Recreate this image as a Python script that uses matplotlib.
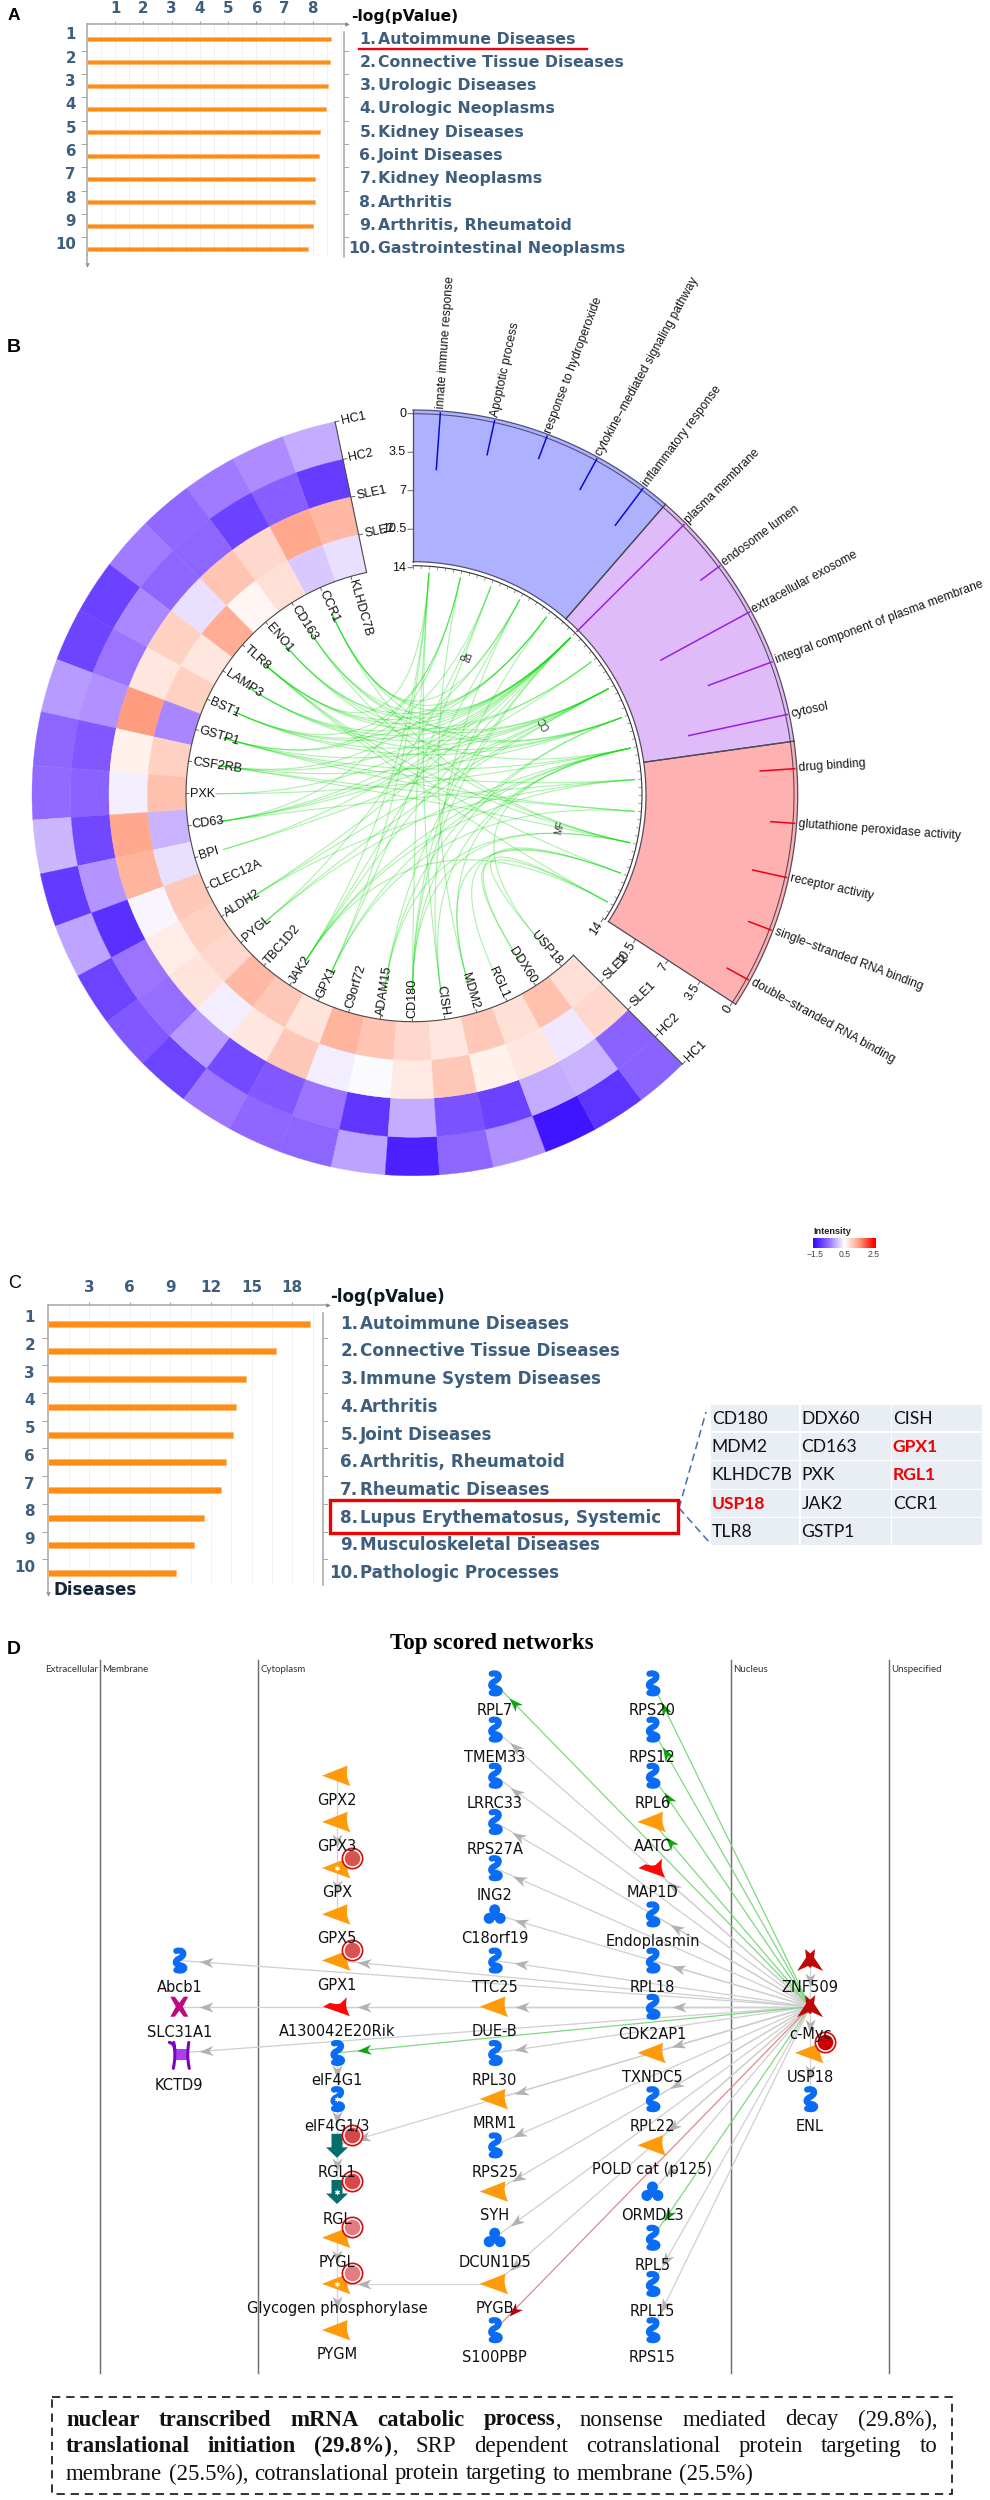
import numpy as np
import matplotlib
matplotlib.use("Agg")
import matplotlib.pyplot as plt
from matplotlib.colors import LinearSegmentedColormap, Normalize
from matplotlib.markers import MarkerStyle
from matplotlib.patches import Rectangle
from matplotlib.path import Path
from matplotlib.transforms import Affine2D

W, H = 990, 2500
# ---------------- data ----------------
A_NAMES = ["Autoimmune Diseases", "Connective Tissue Diseases", "Urologic Diseases", "Urologic Neoplasms",
           "Kidney Diseases", "Joint Diseases", "Kidney Neoplasms", "Arthritis", "Arthritis, Rheumatoid",
           "Gastrointestinal Neoplasms"]
A_VALUES = [8.65, 8.63, 8.55, 8.47, 8.28, 8.23, 8.09, 8.07, 8.0, 7.83]
A_TICKS = [1, 2, 3, 4, 5, 6, 7, 8]
C_NAMES = ["Autoimmune Diseases", "Connective Tissue Diseases", "Immune System Diseases", "Arthritis",
           "Joint Diseases", "Arthritis, Rheumatoid", "Rheumatic Diseases", "Lupus Erythematosus, Systemic",
           "Musculoskeletal Diseases", "Pathologic Processes"]
C_VALUES = [19.33, 16.77, 14.58, 13.83, 13.6, 13.13, 12.76, 11.46, 10.71, 9.41]
C_TICKS = [3, 6, 9, 12, 15, 18]
TABLE = [["CD180", "DDX60", "CISH"], ["MDM2", "CD163", "GPX1"], ["KLHDC7B", "PXK", "RGL1"],
         ["USP18", "JAK2", "CCR1"], ["TLR8", "GSTP1", ""]]
TABLE_RED = ["GPX1", "RGL1", "USP18"]

GENES = ["KLHDC7B", "CCR1", "CD163", "ENO1", "TLR8", "LAMP3", "BST1", "GSTP1", "CSF2RB", "PXK", "CD63", "BPI",
         "CLEC12A", "ALDH2", "PYGL", "TBC1D2", "JAK2", "GPX1", "C9orf72", "ADAM15", "CD180", "CISH", "MDM2",
         "RGL1", "DDX60", "USP18"]
RINGS = ["HC1", "HC2", "SLE1", "SLE2"]
HC1 = [-.10, -.33, -.46, -.63, -.46, -1.01, -.97, -.22, -.67, -.61, -.02, -1.09, -.17, -1.0, -.79, -1.0, -.5, -.65,
       -.67, -.18, -1.32, -.67, -.3, -1.44, -1.15, -.69]
HC2 = [-1.06, -.73, -1.01, -.67, -.67, -.36, -.53, -.3, -.79, -.69, -.95, -.28, -1.18, -.53, -.59, -.25, -.93, -.79,
       -.53, -1.11, -.1, -.85, -1.01, -.1, -.06, -.69]
SLE1 = [1.23, 1.4, .9, 1.1, .27, .98, .74, 1.5, .65, .39, 1.4, 1.27, .43, .7, .78, .37, .74, 1.07, .37, .46, .72,
        1.07, .65, .74, .34, .9]
SLE2 = [.27, .1, .82, .6, 1.33, .74, .98, -.38, .98, 1.15, -.05, .27, 1.07, .98, .9, 1.23, 1.07, .78, 1.27, 1.1, .9,
        .76, 1.07, .82, 1.15, .82]
TERMS = ["innate immune response", "Apoptotic process", "response to hydroperoxide",
         "cytokine\u2212mediated signaling pathway", "inflammatory response", "plasma membrane", "endosome lumen",
         "extracellular exosome", "integral component of plasma membrane", "cytosol", "drug binding",
         "glutathione peroxidase activity", "receptor activity", "single\u2212stranded RNA binding",
         "double\u2212stranded RNA binding"]
TERM_VALUES = [5, 3, 2, 3, 4, 13.6, 2, 9, 6, 9, 3, 2, 3, 2, 2]
TERM_GROUPS = ["BP", "CC", "MF"]
TRACK_TICKS = [0, 3.5, 7, 10.5, 14]
LINKS = {
    0: ["TLR8", "CD180", "JAK2", "CISH", "GPX1"],
    1: ["GSTP1", "BST1", "CD63", "MDM2"],
    2: ["GPX1", "PYGL", "GSTP1"],
    3: ["CCR1", "CSF2RB", "JAK2", "CISH"],
    4: ["CCR1", "CD180", "TLR8", "BST1", "ENO1"],
    5: ["CCR1", "CD163", "TLR8", "LAMP3", "BST1", "CSF2RB", "CD63", "CD180", "ADAM15", "JAK2", "PXK", "ENO1", "BPI",
        "ALDH2"],
    6: ["TLR8", "CD63", "LAMP3"],
    7: ["GSTP1", "CD63", "ENO1", "BST1", "LAMP3", "PYGL", "BPI", "ALDH2", "CD163"],
    8: ["CD163", "LAMP3", "CD180", "CCR1", "CSF2RB", "ADAM15", "BST1"],
    9: ["GSTP1", "PYGL", "JAK2", "GPX1", "ENO1", "PXK", "USP18", "CISH", "MDM2"],
    10: ["JAK2", "GSTP1", "ALDH2", "CD63"],
    11: ["GPX1", "GSTP1", "CSF2RB"],
    12: ["CD163", "CSF2RB", "CCR1", "CD180", "TLR8", "ADAM15"],
    13: ["TLR8", "DDX60", "MDM2", "RGL1"],
    14: ["DDX60", "USP18", "TLR8", "JAK2"],
}
LEGEND_TICKS = [-1.5, 0.5, 2.5]

COL1 = ["Abcb1", "SLC31A1", "KCTD9"]
COL1_SHAPES = list("pxk")
COL2 = ["GPX2", "GPX3", "GPX", "GPX5", "GPX1", "A130042E20Rik", "eIF4G1", "eIF4G1/3", "RGL1", "RGL", "PYGL",
        "Glycogen phosphorylase", "PYGM"]
COL2_SHAPES = list("eeEeerpPtTeEe")
COL3 = ["RPL7", "TMEM33", "LRRC33", "RPS27A", "ING2", "C18orf19", "TTC25", "DUE-B", "RPL30", "MRM1", "RPS25", "SYH",
        "DCUN1D5", "PYGB", "S100PBP"]
COL3_SHAPES = list("pppppbpepepebep")
COL4 = ["RPS20", "RPS12", "RPL6", "AATC", "MAP1D", "Endoplasmin", "RPL18", "CDK2AP1", "TXNDC5", "RPL22",
        "POLD cat (p125)", "ORMDL3", "RPL5", "RPL15", "RPS15"]
COL4_SHAPES = list("ppperpppepebppp")
COL5 = ["ZNF509", "c-Myc", "USP18", "ENL"]
COL5_SHAPES = list("ssep")
COLUMN_STARTS = {1: 6, 2: 2, 3: 0, 4: 0, 5: 6}
CIRCLED = {"GPX": "#d9534f", "GPX1": "#d9534f", "RGL1": "#d9474a", "RGL": "#d9474a", "PYGL": "#e37c80",
           "Glycogen phosphorylase": "#e37c80", "USP18": "#cc0000"}
COMPARTMENTS = ["Extracellular", "Membrane", "Cytoplasm", "Nucleus", "Unspecified"]
BOUNDARIES = [0.5, 1.5, 4.5, 5.5]
GREEN_EDGES = ["RPL7", "RPS20", "RPS12", "RPL6", "AATC", "eIF4G1", "RPL5"]
RED_EDGES = ["S100PBP"]
GRAY_EDGES = ["TMEM33", "LRRC33", "RPS27A", "ING2", "C18orf19", "TTC25", "RPL30", "MRM1", "RPS25", "SYH", "DCUN1D5",
              "PYGB", "DUE-B", "MAP1D", "Endoplasmin", "RPL18", "CDK2AP1", "TXNDC5", "RPL22", "POLD cat (p125)",
              "ORMDL3", "RPL15", "RPS15", "GPX1", "A130042E20Rik", "Abcb1", "SLC31A1", "KCTD9", "RGL1"]
OTHER_EDGES = [("GPX2", "GPX"), ("GPX", "GPX5"), ("eIF4G1", "eIF4G1/3"), ("eIF4G1/3", "RGL1"), ("RGL1", "RGL"),
               ("PYGL", "Glycogen phosphorylase"), ("Glycogen phosphorylase", "PYGM"),
               ("PYGB", "Glycogen phosphorylase"), ("ZNF509", "c-Myc"), ("c-Myc", "USP18"), ("USP18", "ENL")]
BOX_LINES = [
    [[("nuclear", 1)], [("transcribed", 1)], [("mRNA", 1)], [("catabolic", 1)], [("process", 1), (",", 0)],
     [("nonsense", 0)], [("mediated", 0)], [("decay", 0)], [("(29.8%),", 0)]],
    [[("translational", 1)], [("initiation", 1)], [("(29.8%)", 1), (",", 0)], [("SRP", 0)], [("dependent", 0)],
     [("cotranslational", 0)], [("protein", 0)], [("targeting", 0)], [("to", 0)]],
    [[("membrane", 0)], [("(25.5%),", 0)], [("cotranslational", 0)], [("protein", 0)], [("targeting", 0)], [("to", 0)],
     [("membrane", 0)], [("(25.5%)", 0)]],
]

SLATE = "#3d5f7d"
AXC = "#a6a6a6"
BAR = "#fd8d14"
SANS = "Liberation Sans"
SERIF = "Liberation Serif"
PT = 0.72  # points per pixel at dpi 100

fig = plt.figure(figsize=(W / 100, H / 100), dpi=100, facecolor="white")


def add_ax(l, t, r, b, **kw):
    return fig.add_axes([l / W, 1 - b / H, (r - l) / W, (b - t) / H], **kw)


bg = add_ax(0, 0, W, H)
bg.set_xlim(0, W)
bg.set_ylim(H, 0)
bg.axis("off")
bg.set_zorder(5)
bg.patch.set_alpha(0)


def bar_panel(names, values, ticks, minor, l, r, t, b, row0, step, unit, right_x, right_top, bar_px, fs, tick_fs,
              pad, name_x, num_h_off, rank_x, rank_off, lw_arrow):
    ax = add_ax(l, t, r, b)
    ax.set_xlim(0, (r - l) / unit)
    ax.set_ylim((b - row0) / step + 1, (t - row0) / step + 1)
    ranks = np.arange(1, len(values) + 1)
    ax.barh(ranks, values, height=bar_px / step, color=BAR, edgecolor="#ffb469", linewidth=0.4, zorder=3)
    ax.set_xticks(ticks)
    ax.set_xticks(np.arange(minor, (r - l) / unit, minor), minor=True)
    ax.xaxis.grid(True, which="both", color="#f1f1f1", lw=0.7, zorder=0)
    ax.tick_params(axis="x", which="major", top=True, labeltop=True, bottom=False, labelbottom=False, length=2.5,
                   color=AXC, pad=pad, labelcolor=SLATE, labelsize=tick_fs)
    ax.tick_params(axis="x", which="minor", top=False, bottom=False)
    for lab in ax.get_xticklabels():
        lab.set_fontweight("bold")
    ax.set_yticks(ranks[:-1] + 0.5)
    ax.set_yticklabels([])
    ax.tick_params(axis="y", length=6 * PT, color=AXC, width=0.7)
    for s in ("right", "bottom"):
        ax.spines[s].set_visible(False)
    for s in ("left", "top"):
        ax.spines[s].set_color(AXC)
        ax.spines[s].set_linewidth(1.1)
    ax.set_facecolor("none")
    # arrows and right-hand rule
    bg.plot([l, l], [b, b + lw_arrow], color=AXC, lw=1.1)
    bg.scatter([l], [b + lw_arrow], marker="v", s=10, color="#808080", linewidths=0)
    bg.scatter([r], [t], marker=">", s=10, color="#808080", linewidths=0)
    bg.plot([right_x, right_x], [right_top, b + 2], color=AXC, lw=1.1)
    for i, (n, nm) in enumerate(zip(ranks, names)):
        y = row0 + step * i
        bg.text(rank_x, y + rank_off, str(n), ha="right", va="center", fontsize=tick_fs, fontweight="bold",
                color=SLATE, family="DejaVu Sans")
        bg.text(name_x - num_h_off, y, f"{n}.", ha="right", va="center", fontsize=fs, fontweight="bold", color=SLATE,
                family="DejaVu Sans")
        bg.text(name_x, y, nm, ha="left", va="center", fontsize=fs, fontweight="bold", color=SLATE,
                family="DejaVu Sans")
        if i < len(names) - 1:
            bg.plot([right_x, right_x + 4], [y + step / 2] * 2, color=AXC, lw=0.7)
    return ax


# ---------------- Panel A ----------------
bar_panel(A_NAMES, A_VALUES, A_TICKS, 0.5, 87, 347, 24, 255, 39, 23.33, 28.2, 343.75, 31.7, 3.8, 11.3, 10.8, 3.5, 378,
          1.5, 76, -4.3, 10)
bg.text(351, 16.7, "-log(pValue)", fontsize=11.2, fontweight="bold", family="DejaVu Sans", va="center", color="#0a0a0a")
bg.plot([358.5, 587], [48.7, 48.7], color="#f00010", lw=1.7)
bg.text(8, 15.7, "A", fontsize=12.5, family=SANS, fontweight="bold", va="center", color="black")

# ---------------- Panel C ----------------
bar_panel(C_NAMES, C_VALUES, C_TICKS, 1.5, 48.4, 328, 1305, 1582.7, 1323.7, 27.72, 13.55, 323, 1313, 6, 12.1, 11, 5, 360,
          1.5, 35, -6, 11)
bg.text(330, 1296.7, "-log(pValue)", fontsize=12, fontweight="bold", family="DejaVu Sans", va="center", color="#0a1622")
bg.text(53.7, 1590, "Diseases", fontsize=12.1, fontweight="bold", family="DejaVu Sans", va="center", color="#14263a")
bg.text(8, 1283, "C", fontsize=13, family=SANS, va="center", color="black")
bg.add_patch(Rectangle((330, 1500), 348, 33, fc="none", ec="#f00000", lw=2.4, zorder=6))
col_edges = [711, 800.5, 892, 983]
row_edges = [1405, 1432.7, 1461, 1490, 1518, 1546.7]
for i, row in enumerate(TABLE):
    for j, cell in enumerate(row):
        bg.add_patch(Rectangle((col_edges[j], row_edges[i]), col_edges[j + 1] - col_edges[j] - 1.5,
                               row_edges[i + 1] - row_edges[i] - 1.5, fc="#e9edf4", ec="none"))
        red = cell in TABLE_RED
        bg.text(col_edges[j] + 0.8, (row_edges[i] + row_edges[i + 1]) / 2, cell, fontsize=12.6, family="Lato",
                fontweight="bold" if red else "normal", color="#f00000" if red else "#111111", va="center")
bg.plot([679, 706], [1508, 1412], color="#3a6fb5", lw=1.1, ls=(0, (5, 3)))
bg.plot([679, 710], [1508, 1543], color="#3a6fb5", lw=1.1, ls=(0, (5, 3)))

# ---------------- Panel B ----------------
cx, cy, RM = 413.0, 794.7, 400.0
pol = fig.add_axes([(cx - RM) / W, 1 - (cy + RM) / H, 2 * RM / W, 2 * RM / H], projection="polar")
pol.set_theta_zero_location("N")
pol.set_theta_direction(-1)
pol.set_rlim(0, RM)
pol.axis("off")
pol.set_zorder(3)
pol.patch.set_alpha(0)
rad = np.deg2rad
RING_W = 38.5
R_IN = 227.0
R_OUT = R_IN + 4 * RING_W
GENE_STEP = 8.2
GENE_START = 348.2
gene_theta = {g: GENE_START - (i + 0.5) * GENE_STEP for i, g in enumerate(GENES)}
cmap = LinearSegmentedColormap.from_list(
    "intensity", [(0, "#3a10ff"), (.25, "#9e76ff"), (.5, "#ffffff"), (.75, "#ff9e81"), (1, "#ff0000")])


def vcol(v):
    return cmap((v + 1.5) / 4)


for k, series in enumerate([HC1, HC2, SLE1, SLE2]):
    r0 = R_OUT - (k + 1) * RING_W
    for g, v in zip(GENES, series):
        pol.bar(rad(gene_theta[g]), RING_W, width=rad(GENE_STEP), bottom=r0, color=vcol(v), edgecolor=vcol(v),
                linewidth=0.25, zorder=2)
DARK = "#4a4a4a"
tt = np.linspace(GENE_START - 26 * GENE_STEP, GENE_START, 300)
pol.plot(rad(tt), np.full_like(tt, R_IN), color=DARK, lw=0.8, zorder=3)
for end in (GENE_START, GENE_START - 26 * GENE_STEP):
    pol.plot([rad(end)] * 2, [R_IN, R_OUT], color=DARK, lw=0.8, zorder=3)
    for k, rn in enumerate(RINGS):
        r = R_OUT - k * RING_W
        sgn = 1 if end == GENE_START else -1
        pol.plot([rad(end), rad(end) + sgn * 4 / r], [r, r], color=DARK, lw=0.6)
        rot = -end if sgn > 0 else 180 - end
        pol.text(rad(end) + sgn * 6 / r, r, rn, rotation=rot % 360, rotation_mode="anchor", ha="left", va="center",
                 fontsize=9, family=SANS, color="#111111")
for g, th in gene_theta.items():
    pol.plot([rad(th)] * 2, [R_IN - 3, R_IN], color=DARK, lw=0.6)
    if th >= 180:
        rot, ha = (270 - th) % 360, "left"
    else:
        rot, ha = (90 - th) % 360, "right"
    pol.text(rad(th), R_IN - 4, g, rotation=rot, rotation_mode="anchor", ha=ha, va="center", fontsize=9.1, family=SANS,
             color="#111111", zorder=6)

# term track
TERM_STEP = 8.2
term_theta = [TERM_STEP * (i + 0.5) for i in range(15)]
R_T_OUT, R_ZERO, R_T_IN, R_AX = 384.7, 381.0, 233.0, 229.0


def track_r(v):
    return R_ZERO - 11.0 * v


GROUP_FILL = ["#aeb1fd", "#dfbcf9", "#ffb0b0"]
GROUP_LINE = ["#0a0ad8", "#9a20e0", "#f00018"]
for k in range(3):
    span = TERM_STEP * 5
    pol.bar(rad(span * (k + 0.5)), R_T_OUT - R_T_IN, width=rad(span), bottom=R_T_IN, color=GROUP_FILL[k],
            edgecolor="none", zorder=2)
    ends = np.array([span * k, span * (k + 1)])
    a = np.linspace(ends[0], ends[1], 120)
    for r_, lw_ in ((R_T_OUT, .9), (R_ZERO, .8), (R_T_IN, .9)):
        pol.plot(rad(a), np.full_like(a, r_), color="#50507a" if k == 0 else "#5a4a5a", lw=lw_, zorder=3)
    for e in ends:
        pol.plot([rad(e)] * 2, [R_T_IN, R_T_OUT], color="#4a4a5a", lw=0.9, zorder=3)
    pol.text(rad(span * (k + 0.5)), 150, TERM_GROUPS[k], rotation=(180 - span * (k + 0.5)) % 360,
             rotation_mode="anchor", ha="center", va="center", fontsize=7, family=SANS, color="#333333")
a = np.linspace(0, 123, 200)
pol.plot(rad(a), np.full_like(a, R_AX), color="#333333", lw=0.8, zorder=3)
for d_ in np.arange(0, 123.1, 2.05):
    pol.plot([rad(d_)] * 2, [R_AX - 3, R_AX], color="#555555", lw=0.4, zorder=3)
for i, (name, v, th) in enumerate(zip(TERMS, TERM_VALUES, term_theta)):
    k = i // 5
    pol.plot([rad(th)] * 2, [R_T_OUT - 2, track_r(v)], color=GROUP_LINE[k], lw=1.1, zorder=4)
    pol.text(rad(th), R_T_OUT + 2, name, rotation=(90 - th) % 360, rotation_mode="anchor", ha="left", va="center",
             fontsize=8.7, family=SANS, color="#151515", zorder=6)
for v in TRACK_TICKS:
    r = track_r(v)
    pol.plot([0, -5 / r], [r, r], color=DARK, lw=0.6)
    pol.text(-7 / r, r, f"{v:g}", ha="right", va="center", fontsize=9, family=SANS, color="#111111")
    pol.plot([rad(123), rad(123) + 4 / r], [r, r], color=DARK, lw=0.6)
    pol.text(rad(123) + 5 / r, r, f"{v:g}", rotation=57, rotation_mode="anchor", ha="right", va="center", fontsize=9,
             family=SANS, color="#111111")


# chords
def chord(t0, r0, t1, r1):
    p0 = np.array([r0 * np.sin(t0), r0 * np.cos(t0)])
    p1 = np.array([r1 * np.sin(t1), r1 * np.cos(t1)])
    s = np.linspace(0, 1, 60)[:, None]
    pts = (1 - s) ** 2 * p0 + s ** 2 * p1
    return np.arctan2(pts[:, 0], pts[:, 1]), np.hypot(pts[:, 0], pts[:, 1])


for ti, gs in LINKS.items():
    for g in gs:
        t, r = chord(rad(gene_theta[g]), 197, rad(term_theta[ti]), 222)
        pol.plot(t, r, color="#12dc12", alpha=0.36, lw=0.8, zorder=1.5)

# legend
LEG_UNIT = 14.75
cb = add_ax(813.3, 1238.3, 876, 1248.3)
xl, xr = -1.5 - (815 - 813.3) / LEG_UNIT, 2.5 + (876 - 874) / LEG_UNIT
cb.imshow(np.linspace(xl, xr, 256)[None, :], aspect="auto", cmap=cmap, norm=Normalize(-1.5, 2.5), extent=(xl, xr, 0, 1))
cb.set_yticks([])
cb.set_xticks(LEGEND_TICKS)
cb.set_xticklabels([f"{v:g}".replace("-", "\u2212") for v in LEGEND_TICKS], fontsize=6.2, family=SANS, color="#444444")
cb.tick_params(axis="x", length=0, pad=1.2)
for s in cb.spines.values():
    s.set_visible(False)
bg.text(813.3, 1232, "Intensity", fontsize=6.6, fontweight="bold", family=SANS, va="center", color="#222222")
bg.text(14, 348, "B", fontsize=14, fontweight="bold", family=SANS, ha="center", va="center", color="black")

# ---------------- Panel D ----------------
COLX, ROWY = 157.7, 46.2
COL0_PX, ROW0_PX = 179.3, 1683.3
D_T, D_B = 1650, 2385
d = add_ax(0, D_T, W, D_B)
d.set_xlim(1 - COL0_PX / COLX, 1 + (W - COL0_PX) / COLX)
d.set_ylim((D_B - ROW0_PX) / ROWY, (D_T - ROW0_PX) / ROWY)
d.axis("off")
d.set_zorder(4)
d.patch.set_alpha(0)

bg.text(491.5, 1644, "Top scored networks", fontsize=16.6, fontweight="bold", family=SERIF, ha="center", va="center",
        color="black")
bg.text(14, 1649, "D", fontsize=14, fontweight="bold", family=SANS, ha="center", va="center", color="black")
row_top = (1660 - ROW0_PX) / ROWY
row_bot = (2372.7 - ROW0_PX) / ROWY
for b_ in BOUNDARIES:
    d.plot([b_, b_], [row_top, row_bot], color="#6e6e6e", lw=1.05, zorder=1)
comp_fs = 7
label_top = (1670 - ROW0_PX) / ROWY
d.text(BOUNDARIES[0] - 0.012, label_top, COMPARTMENTS[0], ha="right", va="center", fontsize=comp_fs, family="Lato",
       color="#333333")
for b_, nm in zip(BOUNDARIES, COMPARTMENTS[1:]):
    d.text(b_ + 0.012, label_top, nm, ha="left", va="center", fontsize=comp_fs, family="Lato", color="#333333")

# node positions
pos, shape_of = {}, {}
for c, (names, shapes) in enumerate([(COL1, COL1_SHAPES), (COL2, COL2_SHAPES), (COL3, COL3_SHAPES), (COL4, COL4_SHAPES),
                                     (COL5, COL5_SHAPES)], start=1):
    for i, (n, s) in enumerate(zip(names, shapes)):
        pos[n] = (c, COLUMN_STARTS[c] + i)
        shape_of[n] = s

M, L, C3, C4, CL = Path.MOVETO, Path.LINETO, Path.CURVE3, Path.CURVE4, Path.CLOSEPOLY
PATHS = {
    "squig": Path([(-3, 9.5), (2, 11), (5.5, 8.5), (3.5, 5), (1.5, 1.5), (-3.5, 2), (-3.5, -2), (-3.5, -5.5), (5, -4),
                   (5, -7.5), (5, -10.5), (0, -10.5), (-3, -9.5)], [M, C4, C4, C4, C4, C4, C4, C4, C4, C4, C4, C4, C4]),
    "enz": Path([(-15, 0), (10.8, 10.2), (8, 0), (13.5, -10.4), (-15, 0), (-15, 0)], [M, L, C3, C3, L, CL]),
    "red": Path([(-14, 0), (-7, 3.8), (-1, 2.5), (3, 3), (10, 9.5), (7, 0), (13, -9.5), (-14, 0), (-14, 0)],
                [M, L, L, L, L, C3, C3, L, CL]),
    "teal": Path([(-5.5, 11.5), (5.5, 11.5), (5.5, -2), (11, -2), (0, -12.5), (-11, -2), (-5.5, -2), (-5.5, 11.5)],
                 [M, L, L, L, L, L, L, CL]),
    "blob": Path.make_compound_path(Path.circle((0, 4.5), 5.5), Path.circle((-5.5, -4), 5.5), Path.circle((5.5, -4), 5.5),
                                    Path.circle((0, -1), 4.5)),
    "x": Path([(-9, 10), (-4.5, 10), (0, 4), (4.5, 10), (9, 10), (3.5, 0), (9, -10), (4.5, -10), (0, -4), (-4.5, -10),
               (-9, -10), (-3.5, 0), (-9, 10)], [M] + [L] * 11 + [CL]),
    "star": Path([(-5, 11.5), (0, 7), (5, 11.5), (4, 3), (13, -10.5), (2, -5.5), (0, -7.5), (-2, -5.5), (-13, -10.5),
                  (-4, 3), (-5, 11.5)], [M] + [L] * 9 + [CL]),
    "krect": Path([(-7, 6), (7, 6), (7, -5), (-7, -5), (-7, 6)], [M, L, L, L, CL]),
    "kbars": Path.make_compound_path(
        Path([(-7.5, 13), (-6, 4), (-6, -4), (-8, -13)], [M, C4, C4, C4]),
        Path([(7.5, 13), (6, 4), (6, -4), (8, -13)], [M, C4, C4, C4]),
        Path([(-6.5, 6), (-7, 12), (-12, 13)], [M, C3, C3])),
    "arrow": Path([(7, 0), (-7, 5), (-3, 0), (-7, -5), (7, 0)], [M, L, L, L, CL]),
}


def msize(p):
    return (2 * PT * np.abs(p.vertices).max()) ** 2


def put(path, x, y, color, z=5, **kw):
    d.scatter([x], [y], marker=MarkerStyle(path), s=msize(path), facecolors=color, edgecolors="none", linewidths=0,
              zorder=z, **kw)


BLUE, ORANGE, RED_N, TEAL, MAG = "#0a6cf5", "#ff9a0a", "#ff0505", "#056e6a", "#bd0a80"
PURP, PURP2, STAR = "#7a05bd", "#ab3ff0", "#c00808"
LABEL_OFF = {"p": 27.5, "P": 27.5, "e": 24.5, "E": 24.5, "r": 24.5, "b": 24.5, "t": 27.5, "T": 27.5, "x": 25.7, "k": 33,
             "s": 27.5}


def node(name):
    x, y = pos[name]
    s = shape_of[name]
    if s in "pP":
        d.scatter([x], [y], marker=MarkerStyle(PATHS["squig"]), s=msize(PATHS["squig"]), facecolors="none",
                  edgecolors=BLUE, linewidths=4.4, capstyle="round", zorder=5)
    elif s in "eE":
        put(PATHS["enz"], x, y, ORANGE)
    elif s == "r":
        put(PATHS["red"], x, y, RED_N)
    elif s in "tT":
        put(PATHS["teal"], x, y, TEAL)
    elif s == "b":
        put(PATHS["blob"], x, y, BLUE)
    elif s == "x":
        put(PATHS["x"], x, y, MAG)
    elif s == "k":
        y2 = y + 2.5 / ROWY
        put(PATHS["krect"], x + 2 / COLX, y2, PURP2)
        d.scatter([x + 2 / COLX], [y2], marker=MarkerStyle(PATHS["kbars"]), s=msize(PATHS["kbars"]), facecolors="none",
                  edgecolors=PURP, linewidths=2.2, capstyle="round", zorder=5)
    elif s == "s":
        put(PATHS["star"], x, y, STAR)
    if s in "EPT":
        d.scatter([x], [y], marker=(6, 1, 0), s=22, color="white", linewidths=0, zorder=6)
    d.text(x, y + LABEL_OFF[s] / ROWY, name, ha="center", va="center", fontsize=10.5, family="DejaVu Sans",
           color="#111111", zorder=7)
    if name in CIRCLED:
        mx, my = x + 15 / COLX, y - 10.5 / ROWY
        for rr, col in ((11, "#d60f0f"), (9.3, "white"), (7.8, CIRCLED[name])):
            d.scatter([mx], [my], marker="o", s=(2 * rr * PT) ** 2, color=col, linewidths=0, zorder=6)


def edge(a, b, col, acol, lw=0.9):
    xa, ya = pos[a]
    xb, yb = pos[b]
    d.plot([xa, xb], [ya, yb], color=col, lw=lw, zorder=2, solid_capstyle="butt")
    dx, dy = (xb - xa) * COLX, (yb - ya) * ROWY
    ln = np.hypot(dx, dy)
    back = 27.0
    ax_, ay_ = xb - dx / ln * back / COLX, yb - dy / ln * back / ROWY
    ang = np.degrees(np.arctan2(-dy, dx))
    p = PATHS["arrow"]
    d.scatter([ax_], [ay_], marker=MarkerStyle(p, transform=Affine2D().rotate_deg(ang)), s=msize(p), color=acol,
              linewidths=0, zorder=3)


for n in GRAY_EDGES:
    edge("c-Myc", n, "#cfcfcf", "#b2b2b2")
for a_, b_ in OTHER_EDGES:
    edge(a_, b_, "#d4d4d4", "#b2b2b2")
for n in GREEN_EDGES:
    edge("c-Myc", n, "#80d880", "#0ca60c")
for n in RED_EDGES:
    edge("c-Myc", n, "#dc8a8a", "#b40010")
for n in pos:
    node(n)

# ---------------- text box ----------------
bg.add_patch(Rectangle((51.7, 2396.7), 900, 97.3, fc="none", ec="#111111", lw=1.2, ls=(0, (5, 3.5))))
renderer = fig.canvas.get_renderer()
BOX_FS = 16.4


def word_w(pieces):
    w = 0
    for t, b in pieces:
        tx = bg.text(0, 0, t, fontsize=BOX_FS, family=SERIF, fontweight="bold" if b else "normal")
        w += tx.get_window_extent(renderer).width
        tx.remove()
    return w


LINE_Y = [2420, 2446.7, 2474]
LINE_END = [937, 937, 753]
for ln, y, end in zip(BOX_LINES, LINE_Y, LINE_END):
    widths = [word_w(w) for w in ln]
    gap = (end - 66 - sum(widths)) / (len(ln) - 1)
    x = 66.0
    for w, wid in zip(ln, widths):
        xx = x
        for t, b in w:
            tx = bg.text(xx, y, t, fontsize=BOX_FS, family=SERIF, fontweight="bold" if b else "normal", va="center",
                         color="#111111")
            xx += tx.get_window_extent(renderer).width
        x += wid + gap

fig.savefig("out.png", dpi=100, facecolor="white")
